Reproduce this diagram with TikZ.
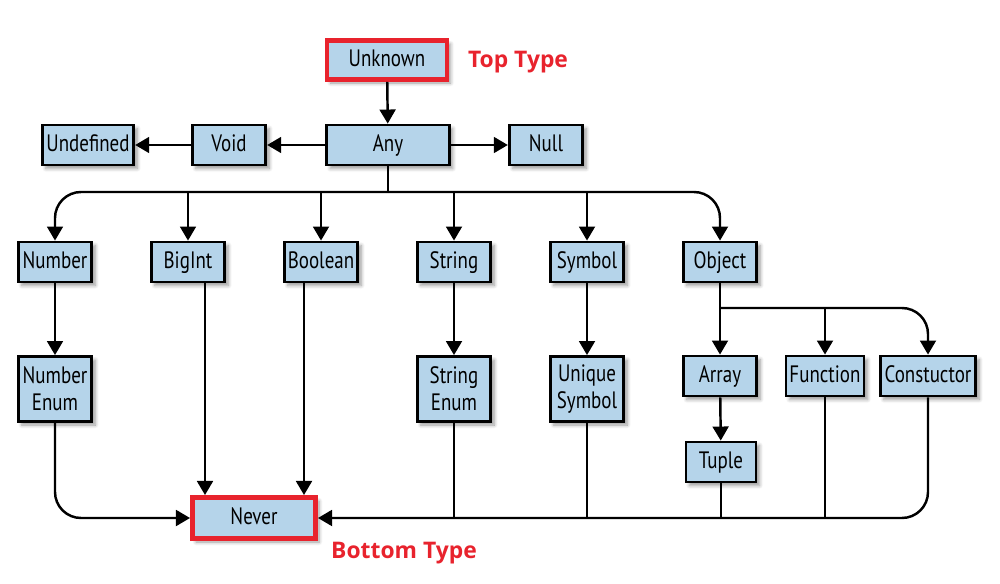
\documentclass[tikz,border=0pt]{standalone}
\usepackage{fontspec}
\setmainfont{PT Sans}[FakeStretch=0.8]
\newfontfamily\labelfont{Open Sans}
\usetikzlibrary{arrows.meta,positioning,shadows.blur}
\definecolor{boxblue}{RGB}{181,212,234}
\definecolor{markred}{RGB}{232,35,45}

\begin{document}
\begin{tikzpicture}
[x=0.2mm,y=-0.2mm,
typebox/.style={draw=black,fill=boxblue,line width=1.6pt,minimum width=1.47cm,minimum height=0.8cm,inner sep=2pt,align=center,text height=1.85ex,text depth=0.45ex,font=\fontsize{13.5}{15.5}\selectfont,blur shadow={shadow xshift=2pt,shadow yshift=-2pt,shadow opacity=40,shadow blur steps=6}},
tall/.style={minimum height=1.3cm,text height={},text depth={}},
marked/.style={draw=markred,line width=2.8pt},
arr/.style={-{Triangle[length=8pt,width=9pt]},line width=1.4pt},
bar/.style={line width=1.4pt},
tag/.style={text=markred,font=\labelfont\bfseries\fontsize{13}{15}\selectfont}]
\useasboundingbox (0,0) rectangle (1000,584);
\node[typebox,marked,minimum width=2.4cm,minimum height=0.78cm] (Unknown) at (387,60) {Unknown};
\node[typebox,minimum width=2.45cm] (Any) at (388,145) {Any};
\node[typebox] (Null) at (546,145) {Null};
\node[typebox] (Void) at (229,145) {Void};
\node[typebox,minimum width=1.83cm] (Undefined) at (88,145) {Undefined};
\node[typebox] (Number) at (55,262) {Number};
\node[typebox] (BigInt) at (188,262) {BigInt};
\node[typebox] (Boolean) at (321,262) {Boolean};
\node[typebox] (String) at (454,262) {String};
\node[typebox] (Symbol) at (587,262) {Symbol};
\node[typebox] (Object) at (720,262) {Object};
\node[typebox,tall] (NumberEnum) at (55,389) {Number\\Enum};
\node[typebox,tall] (StringEnum) at (454,389) {String\\Enum};
\node[typebox,tall] (UniqueSymbol) at (587,389) {Unique\\Symbol};
\node[typebox] (Array) at (720,376) {Array};
\node[typebox] (Function) at (825,376) {Function};
\node[typebox,minimum width=1.91cm] (Constuctor) at (928,376) {Constuctor};
\node[typebox,minimum width=1.4cm] (Tuple) at (721,462) {Tuple};
\node[typebox,marked,minimum width=2.46cm,minimum height=0.82cm] (Never) at (254,518) {Never};
\node[tag] (toptag) at (518,62) {Top Type};
\node[tag] (bottomtag) at (404,553) {Bottom Type};
\coordinate (anybus) at (388,192);
\coordinate (objbus) at (720,308);
\draw[arr] (Unknown) -- (Any);
\draw[arr] (Any) -- (Void);
\draw[arr] (Void) -- (Undefined);
\draw[arr] (Any) -- (Null);
\draw[bar] (Any) -- (anybus);
\draw[arr,rounded corners=0.52cm] (anybus) -| (Number);
\draw[arr,rounded corners=0.52cm] (anybus) -| (Object);
\foreach \t in {BigInt,Boolean,String,Symbol}
  \draw[arr] (anybus -| \t) -- (\t);
\draw[arr] (Number) -- (NumberEnum);
\draw[arr] (String) -- (StringEnum);
\draw[arr] (Symbol) -- (UniqueSymbol);
\draw[arr] (Object) -- (Array);
\draw[arr] (Array) -- (Tuple);
\draw[arr,rounded corners=0.52cm] (objbus) -| (Constuctor);
\draw[arr] (objbus -| Function) -- (Function);
\draw[arr,rounded corners=0.52cm] (NumberEnum) |- (Never);
\draw[arr,rounded corners=0.52cm] (Constuctor) |- (Never);
\foreach \t in {StringEnum,UniqueSymbol,Tuple,Function}
  \draw[bar] (\t) -- (\t |- Never);
\draw[arr] ([xshift=0.34cm]BigInt.south) -- ([xshift=0.34cm]BigInt.south |- Never.north);
\draw[arr] ([xshift=-0.34cm]Boolean.south) -- ([xshift=-0.34cm]Boolean.south |- Never.north);
\end{tikzpicture}
\end{document}
